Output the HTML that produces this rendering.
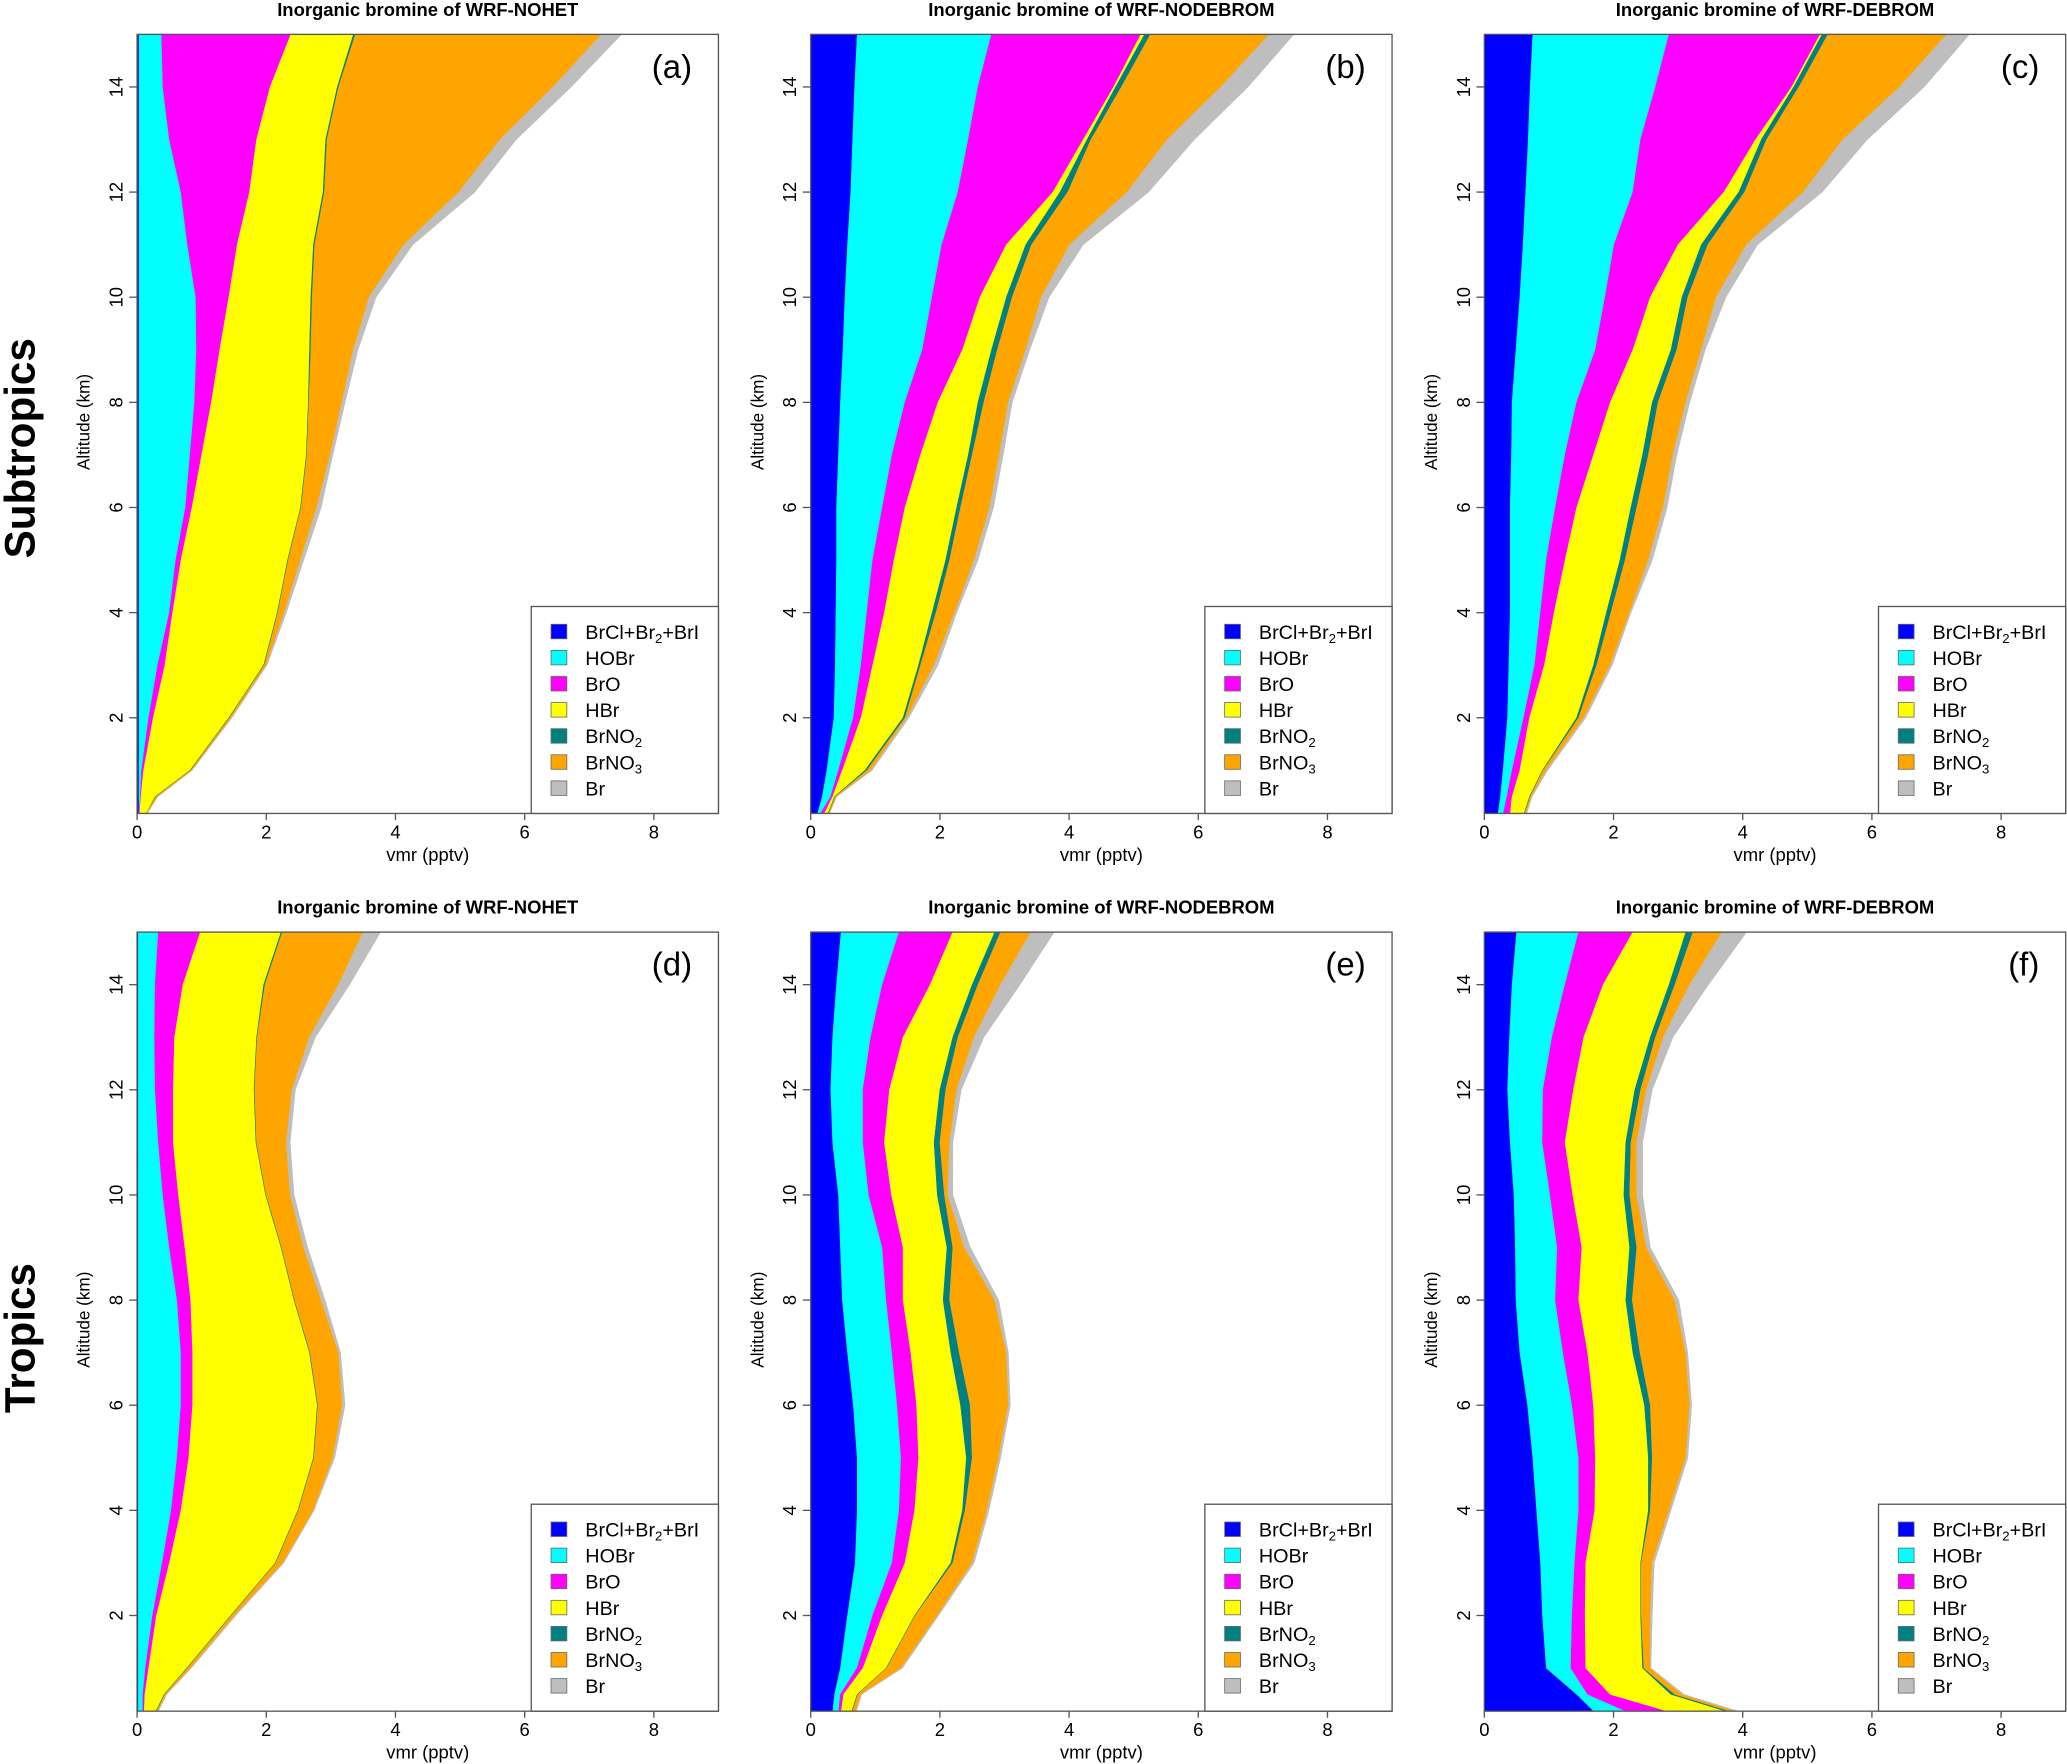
<!DOCTYPE html>
<html><head><meta charset="utf-8">
<style>
html,body{margin:0;padding:0;background:#fff;}
svg{display:block;font-family:"Liberation Sans",Arial,sans-serif;}
</style></head>
<body>
<svg id="fig" width="2067" height="1764" viewBox="0 0 1568 1338" xmlns="http://www.w3.org/2000/svg">
<text transform="translate(26,340) rotate(-90)" text-anchor="middle" font-size="32" font-weight="bold">Subtropics</text>
<text transform="translate(26,1015) rotate(-90)" text-anchor="middle" font-size="32" font-weight="bold">Tropics</text>
</svg>
<script>
// altitude levels (km), bottom to top
const altitudes = [0.15,0.5,1,2,3,4,5,6,7,8,9,10,11,12,13,14,15];
const species = ["BrCl+Br2+BrI","HOBr","BrO","HBr","BrNO2","BrNO3","Br"];
const panelTitles = ["WRF-NOHET","WRF-NODEBROM","WRF-DEBROM","WRF-NOHET","WRF-NODEBROM","WRF-DEBROM"];
const panelLetters = ["(a)","(b)","(c)","(d)","(e)","(f)"];
const xTicks = [0,2,4,6,8];
const yTicks = [2,4,6,8,10,12,14];
// cumulative stacked vmr (pptv) up to and including each species, per panel
const cumA_BrCl = [0.03,0.03,0.03,0.03,0.03,0.03,0.03,0.03,0.03,0.03,0.03,0.03,0.03,0.03,0.03,0.03,0.03];
const cumA_HOBr = [0.03,0.05,0.07,0.18,0.32,0.5,0.6,0.75,0.82,0.89,0.92,0.91,0.78,0.68,0.5,0.4,0.38];
const cumA_BrO = [0.04,0.06,0.1,0.25,0.43,0.55,0.68,0.85,1.0,1.15,1.28,1.42,1.55,1.74,1.85,2.06,2.38];
const cumA_HBr = [0.13,0.28,0.82,1.42,1.96,2.17,2.33,2.53,2.62,2.65,2.67,2.69,2.73,2.88,2.92,3.1,3.35];
const cumA_BrNO2 = [0.13,0.29,0.83,1.43,1.97,2.18,2.34,2.54,2.63,2.66,2.69,2.71,2.75,2.9,2.94,3.12,3.38];
const cumA_BrNO3 = [0.14,0.32,0.85,1.46,2.0,2.28,2.53,2.78,2.99,3.17,3.35,3.59,4.13,4.98,5.62,6.44,7.19];
const cumA_Br = [0.14,0.32,0.85,1.47,2.01,2.31,2.58,2.85,3.03,3.22,3.42,3.7,4.27,5.23,5.87,6.72,7.5];

const cumB_BrCl = [0.1,0.18,0.25,0.36,0.38,0.39,0.4,0.4,0.43,0.46,0.5,0.53,0.57,0.62,0.65,0.68,0.72];
const cumB_HOBr = [0.14,0.31,0.43,0.66,0.78,0.87,0.96,1.11,1.26,1.46,1.73,1.88,2.03,2.28,2.44,2.59,2.8];
const cumB_BrO = [0.2,0.34,0.49,0.78,0.96,1.14,1.29,1.46,1.7,1.97,2.35,2.62,3.03,3.75,4.22,4.69,5.11];
const cumB_HBr = [0.26,0.37,0.84,1.43,1.67,1.88,2.09,2.26,2.44,2.59,2.8,3.03,3.33,3.86,4.28,4.72,5.17];
const cumB_BrNO2 = [0.27,0.38,0.87,1.46,1.7,1.94,2.15,2.32,2.5,2.68,2.89,3.12,3.42,3.98,4.34,4.81,5.26];
const cumB_BrNO3 = [0.28,0.4,0.93,1.49,1.91,2.23,2.53,2.77,2.92,3.06,3.33,3.57,4.01,4.9,5.52,6.35,7.1];
const cumB_Br = [0.28,0.4,0.95,1.52,1.97,2.26,2.59,2.83,2.98,3.12,3.39,3.69,4.22,5.23,5.94,6.77,7.48];

const cumC_BrCl = [0.21,0.25,0.29,0.36,0.38,0.4,0.4,0.4,0.42,0.43,0.49,0.55,0.6,0.64,0.68,0.71,0.75];
const cumC_HOBr = [0.29,0.35,0.43,0.61,0.78,0.87,0.96,1.1,1.25,1.43,1.72,1.87,2.01,2.3,2.42,2.65,2.86];
const cumC_BrO = [0.4,0.43,0.55,0.7,0.93,1.08,1.25,1.43,1.69,1.95,2.3,2.57,3.0,3.71,4.2,4.76,5.2];
const cumC_HBr = [0.61,0.7,0.9,1.43,1.69,1.89,2.1,2.27,2.45,2.6,2.89,3.06,3.36,3.94,4.29,4.79,5.23];
const cumC_BrNO2 = [0.62,0.71,0.91,1.46,1.74,1.96,2.18,2.36,2.54,2.69,2.98,3.15,3.46,4.03,4.37,4.87,5.32];
const cumC_BrNO3 = [0.64,0.73,0.96,1.54,1.95,2.25,2.54,2.77,2.92,3.12,3.36,3.59,4.06,4.94,5.55,6.43,7.16];
const cumC_Br = [0.65,0.74,0.98,1.57,1.98,2.27,2.6,2.83,2.98,3.18,3.42,3.74,4.23,5.23,5.93,6.81,7.51];

const cumD_BrCl = [0.02,0.02,0.02,0.02,0.02,0.02,0.02,0.02,0.02,0.02,0.02,0.02,0.02,0.02,0.02,0.02,0.02];
const cumD_HOBr = [0.09,0.09,0.13,0.24,0.39,0.53,0.62,0.68,0.68,0.62,0.5,0.4,0.33,0.28,0.27,0.28,0.33];
const cumD_BrO = [0.11,0.12,0.18,0.3,0.5,0.68,0.8,0.86,0.86,0.83,0.74,0.64,0.56,0.56,0.58,0.71,0.98];
const cumD_HBr = [0.28,0.42,0.77,1.45,2.14,2.49,2.73,2.79,2.67,2.43,2.23,1.99,1.84,1.81,1.85,1.96,2.23];
const cumD_BrNO2 = [0.29,0.43,0.78,1.46,2.15,2.5,2.74,2.8,2.68,2.44,2.24,2.0,1.85,1.82,1.86,1.98,2.25];
const cumD_BrNO3 = [0.31,0.45,0.83,1.51,2.26,2.73,3.03,3.18,3.12,2.85,2.58,2.37,2.31,2.4,2.67,3.12,3.5];
const cumD_Br = [0.32,0.46,0.84,1.53,2.27,2.74,3.06,3.22,3.15,2.91,2.64,2.43,2.37,2.45,2.76,3.29,3.77];

const cumE_BrCl = [0.34,0.37,0.46,0.57,0.69,0.72,0.72,0.66,0.57,0.49,0.46,0.43,0.34,0.31,0.34,0.4,0.47];
const cumE_HOBr = [0.43,0.46,0.72,0.96,1.26,1.37,1.4,1.34,1.26,1.17,1.11,0.9,0.81,0.81,0.93,1.11,1.37];
const cumE_BrO = [0.47,0.51,0.81,1.11,1.46,1.61,1.67,1.64,1.55,1.43,1.43,1.25,1.14,1.22,1.43,1.85,2.2];
const cumE_HBr = [0.63,0.72,1.17,1.61,2.17,2.35,2.41,2.32,2.17,2.05,2.11,1.96,1.91,2.0,2.2,2.5,2.85];
const cumE_BrNO2 = [0.64,0.73,1.18,1.62,2.2,2.39,2.5,2.47,2.3,2.15,2.2,2.07,2.0,2.09,2.28,2.59,2.94];
const cumE_BrNO3 = [0.69,0.78,1.4,1.96,2.5,2.73,2.91,3.06,3.03,2.85,2.38,2.12,2.15,2.26,2.53,2.94,3.41];
const cumE_Br = [0.7,0.79,1.42,1.98,2.53,2.76,2.94,3.09,3.06,2.91,2.47,2.2,2.2,2.33,2.68,3.24,3.77];

const cumF_BrCl = [1.72,1.43,0.96,0.9,0.87,0.81,0.75,0.67,0.55,0.49,0.48,0.46,0.4,0.36,0.39,0.43,0.5];
const cumF_HOBr = [2.25,1.6,1.34,1.36,1.4,1.46,1.46,1.36,1.22,1.1,1.13,1.02,0.9,0.91,1.05,1.25,1.46];
const cumF_BrO = [2.92,1.95,1.57,1.56,1.57,1.71,1.72,1.69,1.6,1.46,1.51,1.37,1.25,1.38,1.54,1.84,2.3];
const cumF_HBr = [3.82,2.89,2.45,2.42,2.42,2.54,2.54,2.48,2.3,2.19,2.25,2.16,2.19,2.33,2.57,2.86,3.12];
const cumF_BrNO2 = [3.88,2.95,2.47,2.43,2.43,2.57,2.6,2.57,2.41,2.29,2.36,2.25,2.27,2.42,2.65,2.95,3.23];
const cumF_BrNO3 = [3.97,3.06,2.57,2.57,2.6,2.86,3.12,3.18,3.12,2.95,2.51,2.36,2.36,2.51,2.77,3.18,3.68];
const cumF_Br = [4.01,3.09,2.58,2.6,2.63,2.89,3.15,3.21,3.15,3.01,2.57,2.45,2.45,2.6,2.92,3.47,4.06];

const panelsData = [
 [cumA_BrCl,cumA_HOBr,cumA_BrO,cumA_HBr,cumA_BrNO2,cumA_BrNO3,cumA_Br],
 [cumB_BrCl,cumB_HOBr,cumB_BrO,cumB_HBr,cumB_BrNO2,cumB_BrNO3,cumB_Br],
 [cumC_BrCl,cumC_HOBr,cumC_BrO,cumC_HBr,cumC_BrNO2,cumC_BrNO3,cumC_Br],
 [cumD_BrCl,cumD_HOBr,cumD_BrO,cumD_HBr,cumD_BrNO2,cumD_BrNO3,cumD_Br],
 [cumE_BrCl,cumE_HOBr,cumE_BrO,cumE_HBr,cumE_BrNO2,cumE_BrNO3,cumE_Br],
 [cumF_BrCl,cumF_HOBr,cumF_BrO,cumF_HBr,cumF_BrNO2,cumF_BrNO3,cumF_Br]
];
const colors = ["#0000FF","#00FFFF","#FF00FF","#FFFF00","#008080","#FFA500","#BEBEBE"];
const legendLabels = ["BrCl+Br<tspan baseline-shift='-3' font-size='10'>2</tspan>+BrI","HOBr","BrO","HBr","BrNO<tspan baseline-shift='-3' font-size='10'>2</tspan>","BrNO<tspan baseline-shift='-3' font-size='10'>3</tspan>","Br"];

const NS="http://www.w3.org/2000/svg";
const svg=document.getElementById('fig');
const W=441,H=591,xMin=0,xMax=9,yMin=0.18,yMax=15.0;
const colX=[104,615,1126], rowY=[26,707];
function mk(tag,attrs,parent){const e=document.createElementNS(NS,tag);for(const k in attrs)e.setAttribute(k,attrs[k]);(parent||svg).appendChild(e);return e;}

panelsData.forEach((cum,p)=>{
  const x0=colX[p%3], y0=rowY[Math.floor(p/3)];
  const sx=v=>x0+(v-xMin)/(xMax-xMin)*W;
  const sy=h=>y0+H-(h-yMin)/(yMax-yMin)*H;
  const g=mk('g',{});
  
  
  const clipId='clip'+p;
  const cp=mk('clipPath',{id:clipId},g); mk('rect',{x:x0,y:y0,width:W,height:H},cp);
  const areas=mk('g',{'clip-path':'url(#'+clipId+')'},g);
  for(let k=0;k<species.length;k++){
    const top=cum[k], bot=k>0?cum[k-1]:null;
    let pts=altitudes.map((h,i)=>sx(top[i]).toFixed(2)+','+sy(h).toFixed(2));
    let back=altitudes.map((h,i)=>sx(bot?bot[i]:0).toFixed(2)+','+sy(h).toFixed(2)).reverse();
    const poly=mk('polygon',{points:pts.concat(back).join(' '),fill:colors[k],stroke:colors[k],'stroke-width':0.4},areas);
    
    
  }
  const box=mk('rect',{x:x0,y:y0,width:W,height:H,fill:'none',stroke:'#555','stroke-width':1},g);
  
  
  xTicks.forEach(t=>{
    mk('line',{x1:sx(t),x2:sx(t),y1:y0+H,y2:y0+H+5,stroke:'#555'},g);
    const tl=mk('text',{x:sx(t),y:y0+H+19,'text-anchor':'middle','font-size':14},g);
    tl.textContent=t;
    
    
  });
  yTicks.forEach(t=>{
    mk('line',{x1:x0,x2:x0-6,y1:sy(t),y2:sy(t),stroke:'#555'},g);
    const tl=mk('text',{transform:`translate(${x0-11},${sy(t)}) rotate(-90)`,'text-anchor':'middle','font-size':14},g);
    tl.textContent=t;
    
    
  });
  const xt=mk('text',{x:x0+W/2,y:y0+H+36,'text-anchor':'middle','font-size':14},g);
  xt.textContent='vmr (pptv)';
  
  
  const yt=mk('text',{transform:`translate(${x0-36},${y0+294}) rotate(-90)`,'text-anchor':'middle','font-size':13},g);
  yt.textContent='Altitude (km)';
  
  
  const ti=mk('text',{x:x0+W/2,y:y0-14,'text-anchor':'middle','font-size':14,'font-weight':'bold'},g);
  ti.textContent='Inorganic bromine of  '+panelTitles[p];
  
  
  const pl=mk('text',{x:x0+421,y:y0+33,'text-anchor':'end','font-size':25},g);
  pl.textContent=panelLetters[p];
  
  
  const lg=mk('g',{},g);
  
  
  mk('rect',{x:x0+299,y:y0+434,width:W-299,height:H-434,fill:'#fff',stroke:'#555','stroke-width':1},lg);
  species.forEach((s,k)=>{
    const cy=y0+453+k*19.8;
    const sw=mk('rect',{x:x0+314,y:cy-5.5,width:12,height:11,fill:colors[k],stroke:'#666','stroke-width':0.6},lg);
    
    
    const lt=mk('text',{x:x0+340,y:cy+5.5,'font-size':15},lg);
    lt.innerHTML=legendLabels[k];
    
    
  });
});
</script>
</body></html>
